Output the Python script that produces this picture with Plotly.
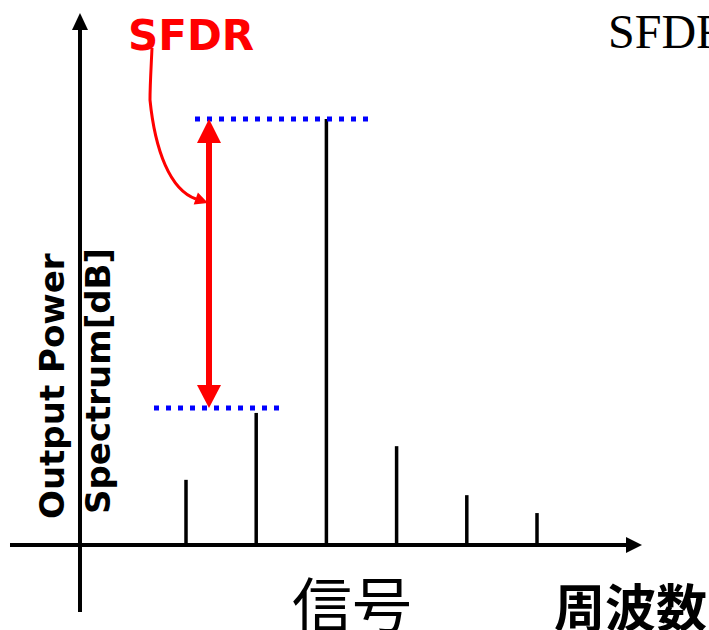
import plotly.graph_objects as go

# ---- data ----
freq_bins = [1, 2, 3, 4, 5, 6]                 # harmonic / spur positions (arb. units)
power_db = [15.3, 31.0, 100.0, 23.2, 11.7, 7.5]  # output power spectrum levels (arb. dB)
signal_index = 2
x_title = "周波数"
signal_label = "信号"
y_title_lines = ["Output Power", "Spectrum[dB]"]
sfdr_label = "SFDR"

W, H = 709, 630
X_RANGE = [-1.6496, 8.4501]
Y_RANGE = [-19.95, 127.93]


def P(px, py):
    """pixel -> paper coords string"""
    return f"{px / W:.5f},{1 - py / H:.5f}"


def path(points, close=False):
    s = "M" + " L".join(P(x, y) for x, y in points)
    return s + (" Z" if close else "")


fig = go.Figure()

# spectrum spikes
xs, ys = [], []
for f, p in zip(freq_bins, power_db):
    xs += [f, f, None]
    ys += [0, p, None]
fig.add_trace(go.Scatter(x=xs, y=ys, mode="lines",
                         line=dict(color="black", width=3.5),
                         hoverinfo="skip", showlegend=False))

shapes = []
# axes
shapes.append(dict(type="path", xref="paper", yref="paper",
                   path=path([(80, 612), (80, 28)]),
                   line=dict(color="black", width=4)))
shapes.append(dict(type="path", xref="paper", yref="paper",
                   path=path([(80, 13), (72, 30), (88, 30)], close=True),
                   fillcolor="black", line=dict(color="black", width=0)))
shapes.append(dict(type="path", xref="paper", yref="paper",
                   path=path([(10, 545), (628, 545)]),
                   line=dict(color="black", width=4)))
shapes.append(dict(type="path", xref="paper", yref="paper",
                   path=path([(642, 545), (626, 537), (626, 553)], close=True),
                   fillcolor="black", line=dict(color="black", width=0)))

# blue dotted reference levels
shapes.append(dict(type="path", xref="paper", yref="paper",
                   path=path([(195, 119), (372, 119)]),
                   line=dict(color="#0000FF", width=5, dash="5px,7px")))
shapes.append(dict(type="path", xref="paper", yref="paper",
                   path=path([(154, 408), (284, 408)]),
                   line=dict(color="#0000FF", width=5, dash="5px,7px")))

# red double arrow
shapes.append(dict(type="path", xref="paper", yref="paper",
                   path=path([(209, 140), (209, 388)]),
                   line=dict(color="#FF0000", width=6)))
shapes.append(dict(type="path", xref="paper", yref="paper",
                   path=path([(209, 119), (197, 143), (221, 143)], close=True),
                   fillcolor="#FF0000", line=dict(color="#FF0000", width=0)))
shapes.append(dict(type="path", xref="paper", yref="paper",
                   path=path([(209, 408), (197, 385), (221, 385)], close=True),
                   fillcolor="#FF0000", line=dict(color="#FF0000", width=0)))

# red curved pointer from label
curve = ("M" + P(152, 48) + " C" + P(151, 70) + " " + P(150, 85) + " " + P(150, 100)
         + " C" + P(155, 150) + " " + P(170, 190) + " " + P(196, 199))
shapes.append(dict(type="path", xref="paper", yref="paper", path=curve,
                   line=dict(color="#FF0000", width=3)))
shapes.append(dict(type="path", xref="paper", yref="paper",
                   path=path([(208, 203), (193.7, 204.6), (197.9, 192.4)], close=True),
                   fillcolor="#FF0000", line=dict(color="#FF0000", width=0)))

annotations = [
    dict(text=sfdr_label, x=191 / W, y=1 - 35 / H, xref="paper", yref="paper",
         showarrow=False, xanchor="center", yanchor="middle",
         font=dict(family="DejaVu Sans", size=42, color="#FF0000", weight="bold")),
    dict(text=sfdr_label, x=606 / W, y=1 - 31 / H, xref="paper", yref="paper",
         showarrow=False, xanchor="left", yanchor="middle",
         font=dict(family="Liberation Serif", size=48, color="black")),
    dict(text="<b>" + y_title_lines[0] + "</b>", x=52 / W, y=1 - 386 / H,
         xref="paper", yref="paper", showarrow=False, textangle=-90,
         xanchor="center", yanchor="middle",
         font=dict(family="DejaVu Sans", size=34, color="black")),
    dict(text="<b>" + y_title_lines[1] + "</b>", x=98 / W, y=1 - 381 / H,
         xref="paper", yref="paper", showarrow=False, textangle=-90,
         xanchor="center", yanchor="middle",
         font=dict(family="DejaVu Sans", size=34, color="black")),
    dict(text=signal_label, x=352 / W, y=1 - 601 / H, xref="paper", yref="paper",
         showarrow=False, xanchor="center", yanchor="middle",
         font=dict(family="Noto Sans CJK JP", size=60, color="black")),
    dict(text="<b>" + x_title + "</b>", x=630 / W, y=1 - 605 / H,
         xref="paper", yref="paper", showarrow=False, xanchor="center", yanchor="middle",
         font=dict(family="Noto Sans CJK JP", size=51, color="black")),
]

fig.update_layout(
    width=W, height=H, autosize=False,
    margin=dict(l=0, r=0, t=0, b=0, pad=0),
    paper_bgcolor="white", plot_bgcolor="white",
    xaxis=dict(range=X_RANGE, visible=False, fixedrange=True),
    yaxis=dict(range=Y_RANGE, visible=False, fixedrange=True),
    shapes=shapes, annotations=annotations, showlegend=False,
)

fig.write_html("out.html", config={"displayModeBar": False},
               post_script="document.body.style.margin='0';document.body.style.overflow='hidden';")
